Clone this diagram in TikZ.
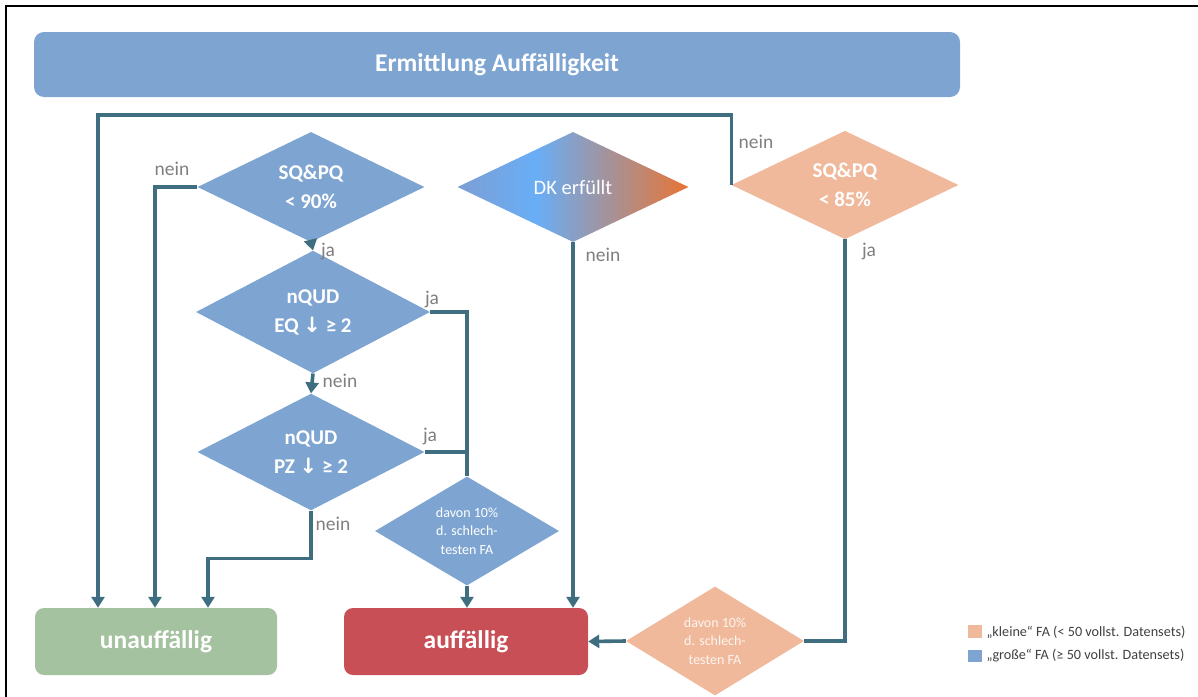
\documentclass[tikz,border=0pt]{standalone}
\usepackage{fontspec}
\setmainfont{Carlito}
\newfontfamily\symfont{DejaVu Sans}
\usetikzlibrary{shapes.geometric,arrows.meta}
\definecolor{blueF}{RGB}{126,165,209}
\definecolor{orangeF}{RGB}{240,185,156}
\definecolor{greenF}{RGB}{165,194,160}
\definecolor{redF}{RGB}{200,79,85}
\definecolor{lineC}{RGB}{62,110,128}
\definecolor{labelC}{RGB}{127,127,127}
\definecolor{dkA}{RGB}{125,158,212}
\definecolor{dkB}{RGB}{104,174,246}
\definecolor{dkC}{RGB}{232,116,52}
\pgfdeclarehorizontalshading{dkshade}{100bp}{color(0bp)=(dkA); color(25bp)=(dkA); color(42bp)=(dkB); color(75bp)=(dkC); color(100bp)=(dkC)}
\begin{document}
\begin{tikzpicture}[x=1pt,y=-1pt,
  dia/.style={diamond, inner sep=0pt, text=white, align=center, font=\fontsize{21}{29}\selectfont\bfseries},
  smalldia/.style={diamond, inner sep=0pt, align=center, font=\fontsize{14}{18.5}\selectfont},
  endbox/.style={rounded corners=9pt, minimum width=242pt, minimum height=67pt, text=white, font=\fontsize{25.5}{28}\selectfont\bfseries},
  conn/.style={draw=lineC, line width=3.6pt},
  arr/.style={conn, -{Triangle[length=11pt,width=13pt]}},
  lbl/.style={text=labelC, font=\fontsize{19.5}{22}\selectfont},
  legtxt/.style={text=black!75, font=\fontsize{14.2}{16}\selectfont, anchor=west}]
\useasboundingbox (0,0) rectangle (1198,696);
\draw[line width=2pt] (6,697) -- (6,6) -- (1198,6);

\node[fill=blueF, rounded corners=10pt, minimum width=926pt, minimum height=65pt, text=white, font=\fontsize{25.5}{28}\selectfont\bfseries] (title) at (497,64.5) {Ermittlung Auffälligkeit};

\node[dia, fill=blueF, minimum width=227pt, minimum height=110pt] (d1) at (311,187) {SQ\&PQ\\ < 90\%};
\node[dia, fill=blueF, minimum width=234pt, minimum height=116pt] (d2) at (313,312) {nQUD\\ EQ {\symfont\bfseries↓} ≥ 2};
\node[dia, fill=blueF, minimum width=227pt, minimum height=106pt] (d3) at (311,452) {nQUD\\ PZ {\symfont\bfseries↓} ≥ 2};
\node[smalldia, fill=blueF, text=white, minimum width=184pt, minimum height=104pt] (d4) at (467,531) {davon 10\%\\ d. schlech-\\ testen FA};
\node[diamond, inner sep=0pt, shading=dkshade, minimum width=231pt, minimum height=110pt, text=white, font=\fontsize{20.5}{24}\selectfont] (dk) at (573,187) {DK erfüllt};
\node[dia, fill=orangeF, minimum width=227pt, minimum height=108pt] (d5) at (845,185) {SQ\&PQ\\ < 85\%};
\node[smalldia, fill=orangeF, text=white!85!orangeF, minimum width=178pt, minimum height=106pt] (d6) at (715,641) {davon 10\%\\ d. schlech-\\ testen FA};

\node[endbox, fill=greenF] (unauff) at (156,641.5) {unauffällig};
\node[endbox, fill=redF, minimum width=244pt] (auff) at (466,641.5) {auffällig};

\draw[arr] (d5.west) |- (98,115) -- (98,0 |- unauff.north);
\draw[arr] (d1.west) -| (155,0 |- unauff.north);
\draw[arr] (d1.south) -- (d2.north);
\draw[conn] (d2.east) -| (d4.north);
\draw[conn] (d3.east) -- (d3.east -| d4.north);
\draw[arr] (d2.south) -- (d3.north);
\draw[arr] (d3.south) -- ++(0,48) -| (208,0 |- unauff.north);
\draw[arr] (d4.south) -- (d4.south |- auff.north);
\draw[arr] (dk.south) -- (dk.south |- auff.north);
\draw[conn] (d5.south) |- (d6.east);
\draw[arr] (d6.west) -- (auff.east);

\node[lbl] (l1) at (172,169) {nein};
\node[lbl] (l2) at (328,251) {ja};
\node[lbl] (l3) at (432,299) {ja};
\node[lbl] (l4) at (340,381) {nein};
\node[lbl] (l5) at (430,436) {ja};
\node[lbl] (l6) at (333,524) {nein};
\node[lbl] (l7) at (603,255) {nein};
\node[lbl] (l8) at (756,142) {nein};
\node[lbl] (l9) at (869,251) {ja};

\node[fill=orangeF, minimum width=14pt, minimum height=13pt, inner sep=0pt] (sq1) at (975,631.5) {};
\node[fill=blueF, minimum width=14pt, minimum height=12pt, inner sep=0pt] (sq2) at (975,656) {};
\node[legtxt] (t1) at (983,632) {„kleine“ FA (< 50 vollst. Datensets)};
\node[legtxt] (t2) at (983,656) {„große“ FA (≥ 50 vollst. Datensets)};
\end{tikzpicture}
\end{document}
